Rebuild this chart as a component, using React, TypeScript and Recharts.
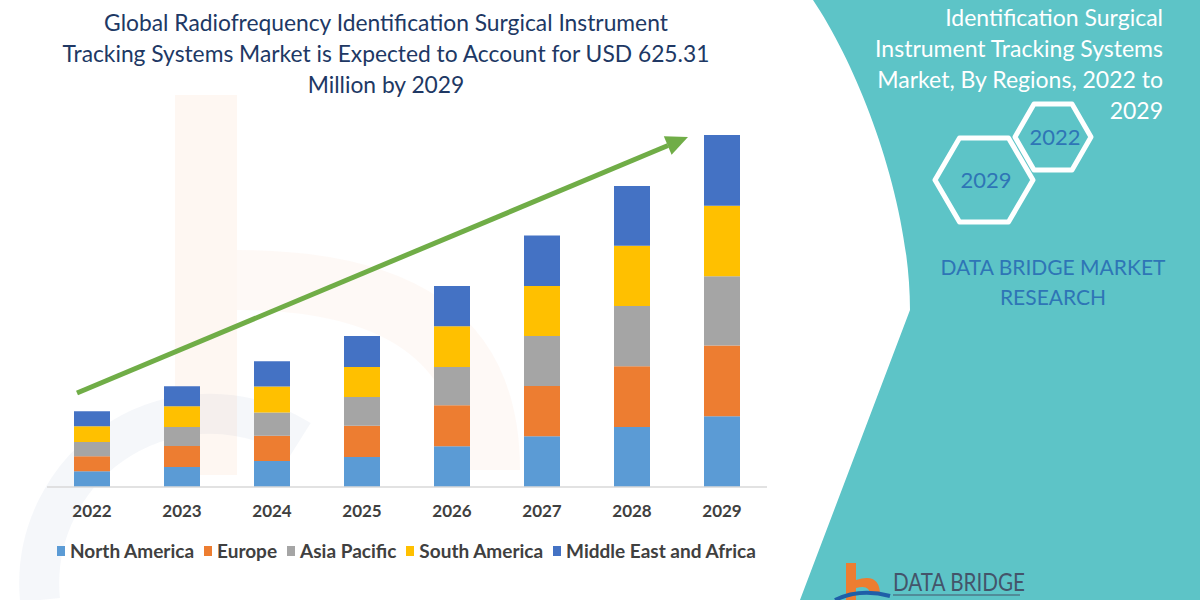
import { BarChart, Bar, XAxis, YAxis, Legend } from 'recharts';

// values in USD million (2029 total = 625.31)
const years = ['2022', '2023', '2024', '2025', '2026', '2027', '2028', '2029'];
const northAmerica = [27.9, 35.5, 46.2, 53.3, 72.3, 90.0, 106.6, 125.6];
const europe = [26.6, 37.3, 44.9, 55.6, 72.8, 89.3, 107.8, 125.6];
const asiaPacific = [25.4, 33.7, 41.4, 51.0, 68.0, 88.8, 107.1, 123.1];
const southAmerica = [27.9, 36.8, 46.2, 53.3, 72.3, 88.8, 107.1, 125.6];
const middleEastAfrica = [26.6, 35.5, 44.9, 55.0, 71.6, 90.0, 106.0, 125.4];

const titleLines = [
  'Global Radiofrequency Identification Surgical Instrument',
  'Tracking Systems Market is Expected to Account for USD 625.31',
  'Million by 2029',
];
const sideLines = [
  'Identification Surgical',
  'Instrument Tracking Systems',
  'Market, By Regions, 2022 to',
  '2029',
];

const series = [
  { key: 'North America', values: northAmerica, color: '#5B9BD5' },
  { key: 'Europe', values: europe, color: '#ED7D31' },
  { key: 'Asia Pacific', values: asiaPacific, color: '#A5A5A5' },
  { key: 'South America', values: southAmerica, color: '#FFC000' },
  { key: 'Middle East and Africa', values: middleEastAfrica, color: '#4472C4' },
];

const data = years.map((year, i) => {
  const row: Record<string, string | number> = { year };
  series.forEach(s => { row[s.key] = s.values[i]; });
  return row;
});

const FONT = 'Lato, "Open Sans", sans-serif';

const hexPoints = (cx: number, cy: number, hw: number, hh: number) => {
  const q = hw / 2;
  return [
    [cx - hw, cy], [cx - q, cy - hh], [cx + q, cy - hh],
    [cx + hw, cy], [cx + q, cy + hh], [cx - q, cy + hh],
  ].map(p => p.join(',')).join(' ');
};

// keep the series order (recharts sorts legend items by name otherwise)
const renderLegend = () => (
  <div style={{ display: 'flex', gap: 10, fontFamily: FONT, fontWeight: 700, fontSize: 19, color: '#404040', whiteSpace: 'nowrap' }}>
    {series.map(s => (
      <div key={s.key} style={{ display: 'flex', alignItems: 'center', gap: 5 }}>
        <span style={{ width: 8, height: 10, background: s.color, display: 'inline-block' }} />
        <span>{s.key}</span>
      </div>
    ))}
  </div>
);

export default function App() {
  return (
    <div style={{ position: 'absolute', left: 0, top: 0, width: 1200, height: 600, background: '#fff', overflow: 'hidden' }}>
      {/* background: teal side panel and faint watermark */}
      <svg width={1200} height={600} style={{ position: 'absolute', left: 0, top: 0 }}>
        <path d="M 40 600 A 170 170 0 0 1 300 440" fill="none" stroke="#5B7FA8" strokeOpacity={0.06} strokeWidth={40} />
        <rect x={175} y={95} width={62} height={380} fill="#F4B183" fillOpacity={0.1} />
        <path d="M 237 250 Q 520 250 520 470 L 460 470 Q 460 310 237 310 Z" fill="#F4B183" fillOpacity={0.07} />
        <path d="M 813 0 C 860 70, 910 200, 910 310 L 800 600 L 1200 600 L 1200 0 Z" fill="#5DC4C7" />
      </svg>

      <div style={{ position: 'absolute', left: 0, top: 0 }}>
        <BarChart
          width={1200}
          height={600}
          data={data}
          margin={{ top: 93, right: 433, bottom: 83, left: 47 }}
        >
          <XAxis
            dataKey="year"
            height={30}
            axisLine={{ stroke: '#D9D9D9', strokeWidth: 1.5 }}
            tickLine={false}
            tickMargin={12}
            tick={{ fill: '#404040', fontSize: 17, fontWeight: 700, fontFamily: FONT }}
            interval={0}
          />
          <YAxis hide domain={[0, 700]} />
          <Legend
            layout="horizontal"
            verticalAlign="middle"
            align="center"
            content={renderLegend}
            wrapperStyle={{ position: 'absolute', top: 539, left: 57, width: 'auto' }}
          />
          {series.map(s => (
            <Bar
              key={s.key}
              dataKey={s.key}
              stackId="a"
              fill={s.color}
              barSize={36}
              isAnimationActive={false}
            />
          ))}
        </BarChart>
      </div>

      {/* foreground: title, arrow, side panel text */}
      <svg width={1200} height={600} style={{ position: 'absolute', left: 0, top: 0, pointerEvents: 'none' }}>
        {titleLines.map((t, i) => (
          <text key={t} x={386} y={31 + i * 31} textAnchor="middle" fontFamily={FONT} fontSize={22.8} fill="#203864">{t}</text>
        ))}

        <line x1={77} y1={393} x2={668} y2={145.5} stroke="#70AD47" strokeWidth={5} />
        <polygon points="688,137 671.6,154.7 663.8,136.3" fill="#70AD47" />

        {sideLines.map((t, i) => (
          <text key={t} x={1163} y={26 + i * 31} textAnchor="end" fontFamily={FONT} fontSize={23} fill="#ffffff">{t}</text>
        ))}

        <polygon points={hexPoints(1053, 137, 38, 33)} fill="none" stroke="#ffffff" strokeWidth={5} strokeLinejoin="round" />
        <polygon points={hexPoints(984, 180, 49, 42)} fill="none" stroke="#ffffff" strokeWidth={5} strokeLinejoin="round" />
        <text x={1055} y={145} textAnchor="middle" fontFamily={FONT} fontSize={22} fill="#2E75B6">2022</text>
        <text x={986} y={188} textAnchor="middle" fontFamily={FONT} fontSize={22} fill="#2E75B6">2029</text>

        <text x={1053} y={275} textAnchor="middle" fontFamily={FONT} fontSize={21} fill="#2E75B6">DATA BRIDGE MARKET</text>
        <text x={1053} y={305} textAnchor="middle" fontFamily={FONT} fontSize={21} fill="#2E75B6">RESEARCH</text>

        <path d="M 846 563 L 856 563 L 856 580 Q 880 572 880 595 L 870 595 Q 870 584 856 588 L 856 600 L 846 600 Z" fill="#ED7D31" />
        <path d="M 835 600 Q 860 588 890 596" fill="none" stroke="#1F5FA8" strokeWidth={4} />
        <text x={893} y={591} fontFamily={FONT} fontSize={25} fill="#44546A" textLength={132} lengthAdjust="spacingAndGlyphs">DATA BRIDGE</text>
        <line x1={893} y1={595} x2={1020} y2={595} stroke="#44546A" strokeWidth={1} />
      </svg>
    </div>
  );
}
